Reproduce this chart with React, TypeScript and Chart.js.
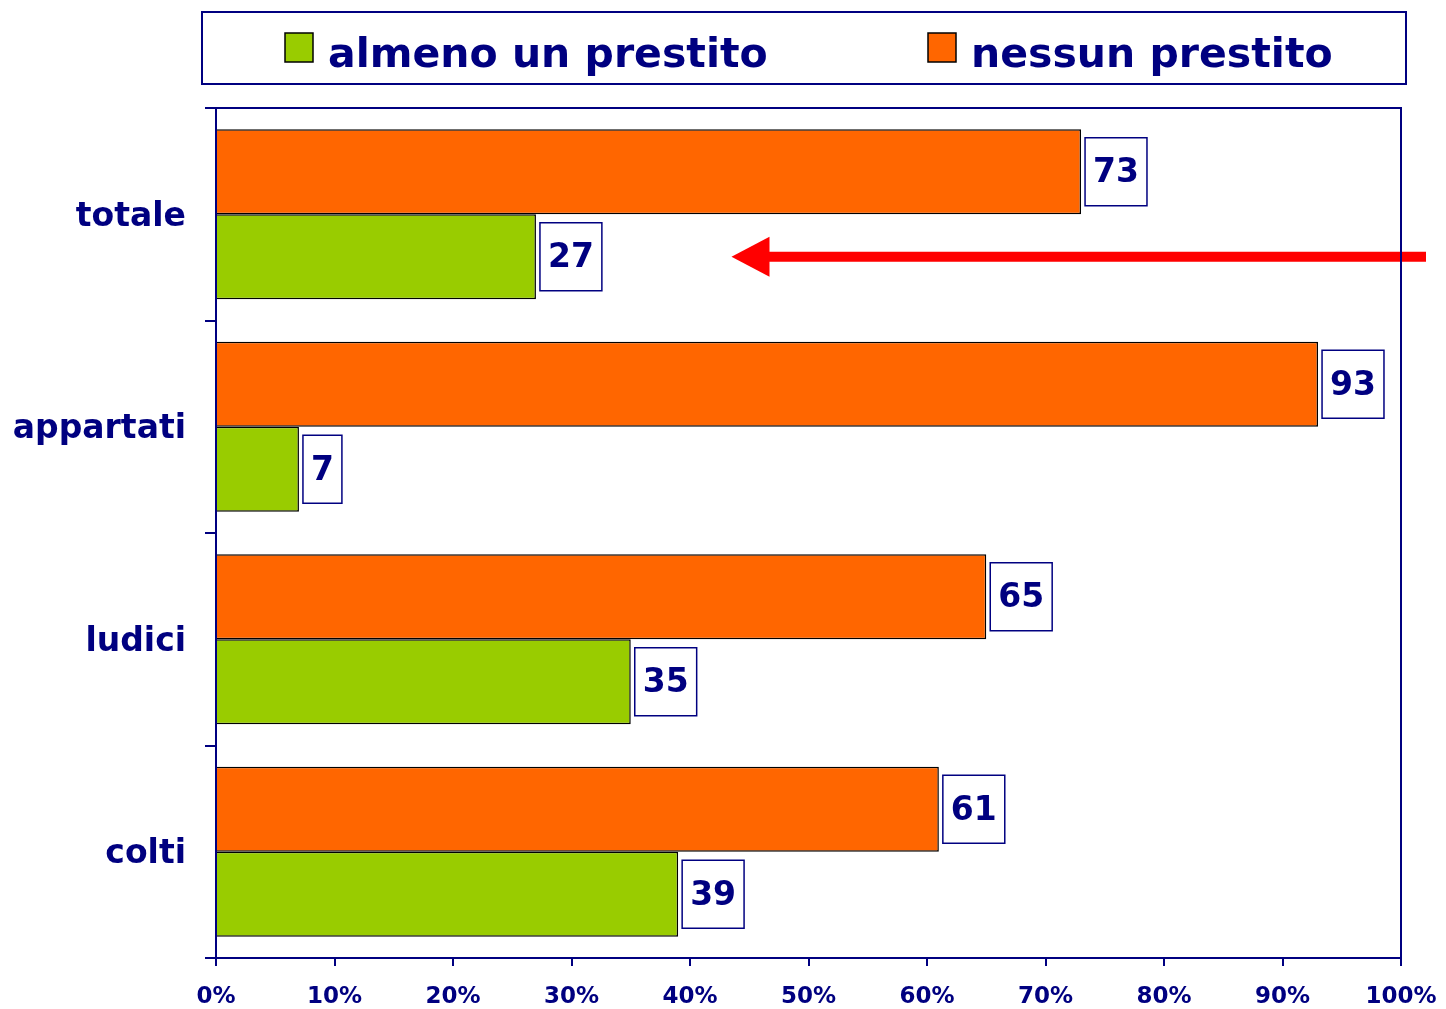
import React, { useEffect, useRef } from 'react';
import { Chart, registerables } from 'chart.js';

Chart.register(...registerables);

const categories = ['totale', 'appartati', 'ludici', 'colti'];
const nessunPrestito = [73, 93, 65, 61];
const almenoUnPrestito = [27, 7, 35, 39];
const seriesLabels = ['nessun prestito', 'almeno un prestito'];
const seriesColors = ['#FF6600', '#99CC00'];
const xTickValues = [0, 10, 20, 30, 40, 50, 60, 70, 80, 90, 100];
const arrowTargetValue = 43.5;

const NAVY = '#000080';
const FONT = '"DejaVu Sans", Verdana, sans-serif';

const dataLabelPlugin = {
  id: 'boxedLabels',
  afterDatasetsDraw(chart: any) {
    const ctx = chart.ctx;
    ctx.save();
    ctx.font = `bold 33px ${FONT}`;
    chart.data.datasets.forEach((ds: any, di: number) => {
      const meta = chart.getDatasetMeta(di);
      meta.data.forEach((el: any, i: number) => {
        const txt = String(ds.data[i]);
        const w = ctx.measureText(txt).width + 16;
        const h = 68;
        const x0 = el.x + 4;
        const y0 = el.y - h / 2;
        ctx.fillStyle = '#ffffff';
        ctx.fillRect(x0, y0, w, h);
        ctx.strokeStyle = NAVY;
        ctx.lineWidth = 1.5;
        ctx.strokeRect(x0, y0, w, h);
        ctx.fillStyle = NAVY;
        ctx.textAlign = 'center';
        ctx.textBaseline = 'middle';
        ctx.fillText(txt, x0 + w / 2, el.y + 2);
      });
    });
    ctx.restore();
  },
};

const decorPlugin = {
  id: 'decor',
  afterDraw(chart: any) {
    const ctx = chart.ctx;
    const a = chart.chartArea;
    ctx.save();
    // arrow annotation
    const el = chart.getDatasetMeta(1).data[0];
    const y = el.y;
    const tipX = chart.scales.x.getPixelForValue(arrowTargetValue);
    const endX = chart.width - 20;
    ctx.fillStyle = '#FF0000';
    ctx.fillRect(tipX + 30, y - 5, endX - tipX - 30, 10);
    ctx.beginPath();
    ctx.moveTo(tipX, y);
    ctx.lineTo(tipX + 38, y - 20);
    ctx.lineTo(tipX + 38, y + 20);
    ctx.closePath();
    ctx.fill();

    // plot frame (top & right)
    ctx.strokeStyle = NAVY;
    ctx.lineWidth = 2;
    ctx.beginPath();
    ctx.moveTo(a.left, a.top);
    ctx.lineTo(a.right, a.top);
    ctx.lineTo(a.right, a.bottom);
    ctx.stroke();

    // legend box
    const left = a.left - 14;
    const right = a.right + 5;
    const top = 12;
    const bottom = 84;
    ctx.strokeRect(left, top, right - left, bottom - top);
    const order = [1, 0];
    const starts = [285, 928];
    ctx.font = `bold 41px ${FONT}`;
    ctx.textBaseline = 'alphabetic';
    ctx.textAlign = 'left';
    order.forEach((di, k) => {
      const ds = chart.data.datasets[di];
      const x = starts[k];
      ctx.fillStyle = ds.backgroundColor;
      ctx.fillRect(x, 33, 28, 29);
      ctx.strokeStyle = '#000000';
      ctx.lineWidth = 1.5;
      ctx.strokeRect(x, 33, 28, 29);
      ctx.fillStyle = NAVY;
      ctx.fillText(ds.label, x + 43, 67);
    });
    ctx.restore();
  },
};

export default function App() {
  const ref = useRef<HTMLCanvasElement | null>(null);

  useEffect(() => {
    if (!ref.current) return;
    const chart = new Chart(ref.current, {
      type: 'bar',
      data: {
        labels: categories,
        datasets: [
          {
            label: seriesLabels[0],
            data: nessunPrestito,
            backgroundColor: seriesColors[0],
            borderColor: '#000000',
            borderWidth: 1.5,
          },
          {
            label: seriesLabels[1],
            data: almenoUnPrestito,
            backgroundColor: seriesColors[1],
            borderColor: '#000000',
            borderWidth: 1.5,
          },
        ],
      },
      options: {
        indexAxis: 'y',
        responsive: false,
        animation: false,
        layout: { padding: { top: 108, right: 45, left: 0, bottom: 0 } },
        datasets: { bar: { categoryPercentage: 0.8, barPercentage: 1 } },
        plugins: { legend: { display: false }, tooltip: { enabled: false } },
        scales: {
          x: {
            type: 'linear',
            min: 0,
            max: 100,
            afterFit(s: any) {
              s.height = 51;
              s.paddingLeft = 0;
              s.paddingRight = 0;
            },
            afterBuildTicks(s: any) {
              s.ticks = xTickValues.map((v) => ({ value: v }));
            },
            ticks: {
              callback: (v: any) => v + '%',
              color: NAVY,
              font: { family: FONT, size: 23, weight: 'bold' },
              padding: 17,
              autoSkip: false,
              maxRotation: 0,
            },
            grid: { drawOnChartArea: false, tickLength: 8, color: NAVY, lineWidth: 2 },
            border: { color: NAVY, width: 2 },
          },
          y: {
            type: 'category',
            offset: true,
            afterFit(s: any) {
              s.width = 216;
              s.paddingTop = 0;
              s.paddingBottom = 0;
            },
            ticks: {
              color: NAVY,
              font: { family: FONT, size: 33, weight: 'bold' },
              padding: 19,
              labelOffset: 3,
            },
            grid: { offset: true, drawOnChartArea: false, tickLength: 11, color: NAVY, lineWidth: 2 },
            border: { color: NAVY, width: 2 },
          },
        },
      } as any,
      plugins: [dataLabelPlugin, decorPlugin],
    });
    return () => chart.destroy();
  }, []);

  return (
    <div style={{ position: 'absolute', left: 0, top: 0, width: 1446, height: 1009, background: '#ffffff' }}>
      <canvas ref={ref} width={1446} height={1009} />
    </div>
  );
}
